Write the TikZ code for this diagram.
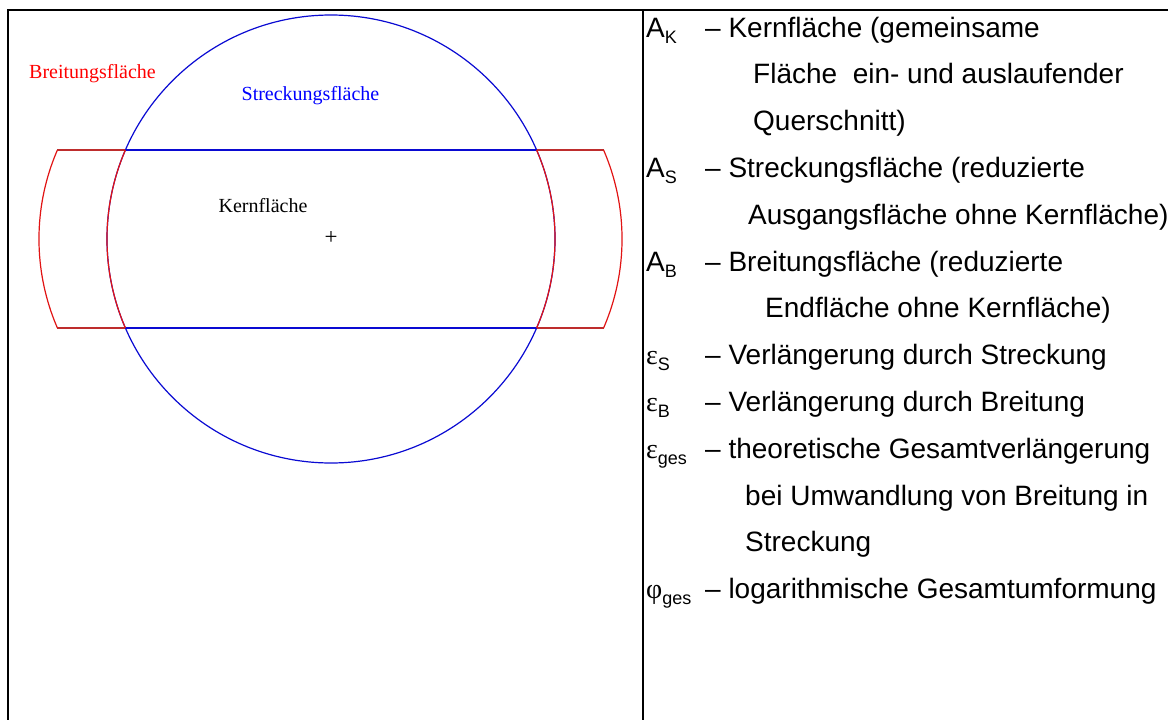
\documentclass[tikz,border=0pt]{standalone}
\usepackage{fontspec}
\setmainfont{Liberation Serif}
\newfontfamily\arialf{Liberation Sans}
\definecolor{rline}{RGB}{225,20,20}
\definecolor{rdark}{RGB}{190,45,45}
\definecolor{bline}{RGB}{10,10,210}
\newcommand{\sbs}[1]{\raisebox{-0.22em}{\fontsize{18}{18}\selectfont #1}}
\begin{document}
\begin{tikzpicture}[x=1pt,y=-1pt,
  frameline/.style={line width=2pt,black},
  blueline/.style={line width=1.2pt,bline},
  redline/.style={line width=1.2pt,rline},
  reddark/.style={line width=1.2pt,rdark},
  lab/.style={inner sep=0pt,font=\fontsize{20}{20}\selectfont},
  txt/.style={inner sep=0pt,anchor=base west,font=\arialf\fontsize{28}{28}\selectfont},
  sym/.style={inner sep=0pt,anchor=base west,font=\arialf\fontsize{28}{28}\selectfont}]
\useasboundingbox (0,0) rectangle (1168,720);
% frame
\coordinate (tl) at (8,10);
\coordinate (tr) at (1168,10);
\coordinate (bl) at (8,720);
\coordinate (dt) at (643,10);
\coordinate (db) at (643,720);
\draw[frameline] (7,10) -- (tr);
\draw[frameline] (tl) -- (bl);
\draw[frameline] (dt) -- (db);
% geometry
\coordinate (C) at (331,239);
\def\R{224}
% blue circle
\draw[blueline] (C) circle[radius=\R];
% intersections
\coordinate (ilt) at (125.4,150);
\coordinate (ilb) at (125.4,328);
\coordinate (irt) at (536.6,150);
\coordinate (irb) at (536.6,328);
\coordinate (olt) at (57.4,150);
\coordinate (olb) at (57.4,328);
\coordinate (ort) at (603.6,150);
\coordinate (orb) at (603.6,328);
% blue horizontals
\draw[blueline] (ilt) -- (irt);
\draw[blueline] (ilb) -- (irb);
% red parts
\draw[reddark] (olt) -- (ilt);
\draw[reddark] (olb) -- (ilb);
\draw[reddark] (irt) -- (ort);
\draw[reddark] (irb) -- (orb);
\draw[redline] (ilt) arc[start angle=203.41, end angle=156.59, radius=\R];
\draw[redline] (olt) arc[start angle=203.41, end angle=156.59, radius=\R];
\draw[redline] (irt) arc[start angle=-23.41, end angle=23.41, radius=\R];
\draw[redline] (ort) arc[start angle=-23.41, end angle=23.41, radius=\R];
% labels
\node[lab,text=red,anchor=base] (breit) at (92.5,78) {Breitungsfläche};
\node[lab,text=blue,anchor=base] (streck) at (310.5,100) {Streckungsfläche};
\node[lab,anchor=base] (kern) at (263,212) {Kernfläche};
\node[lab,anchor=center,font=\fontsize{23}{23}\selectfont] (plus) at (331,238) {+};
% right text
\def\sx{646}
\def\dx{705}
\node[sym] (s1) at (\sx,37) {A\sbs{K}};
\node[txt] (t1) at (\dx,37) {– Kernfläche (gemeinsame};
\node[txt] (t2) at (753,83.8) {Fläche\ \ ein- und auslaufender};
\node[txt] (t3) at (753,130.6) {Querschnitt)};
\node[sym] (s2) at (\sx,177.4) {A\sbs{S}};
\node[txt] (t4) at (\dx,177.4) {– Streckungsfläche (reduzierte};
\node[txt] (t5) at (748,224.2) {Ausgangsfläche ohne Kernfläche)};
\node[sym] (s3) at (\sx,271) {A\sbs{B}};
\node[txt] (t6) at (\dx,271) {– Breitungsfläche (reduzierte};
\node[txt] (t7) at (765,317.8) {Endfläche ohne Kernfläche)};
\node[sym] (s4) at (\sx,364.6) {{\rmfamily ε}\sbs{S}};
\node[txt] (t8) at (\dx,364.6) {– Verlängerung durch Streckung};
\node[sym] (s5) at (\sx,411.4) {{\rmfamily ε}\sbs{B}};
\node[txt] (t9) at (\dx,411.4) {– Verlängerung durch Breitung};
\node[sym] (s6) at (\sx,458.2) {{\rmfamily ε}\sbs{ges}};
\node[txt] (t10) at (\dx,458.2) {– theoretische Gesamtverlängerung};
\node[txt] (t11) at (745,505) {bei Umwandlung von Breitung in};
\node[txt] (t12) at (745,551.8) {Streckung};
\node[sym] (s7) at (\sx,598.6) {{\rmfamily φ}\sbs{ges}};
\node[txt] (t13) at (\dx,598.6) {– logarithmische Gesamtumformung};
\end{tikzpicture}
\end{document}
